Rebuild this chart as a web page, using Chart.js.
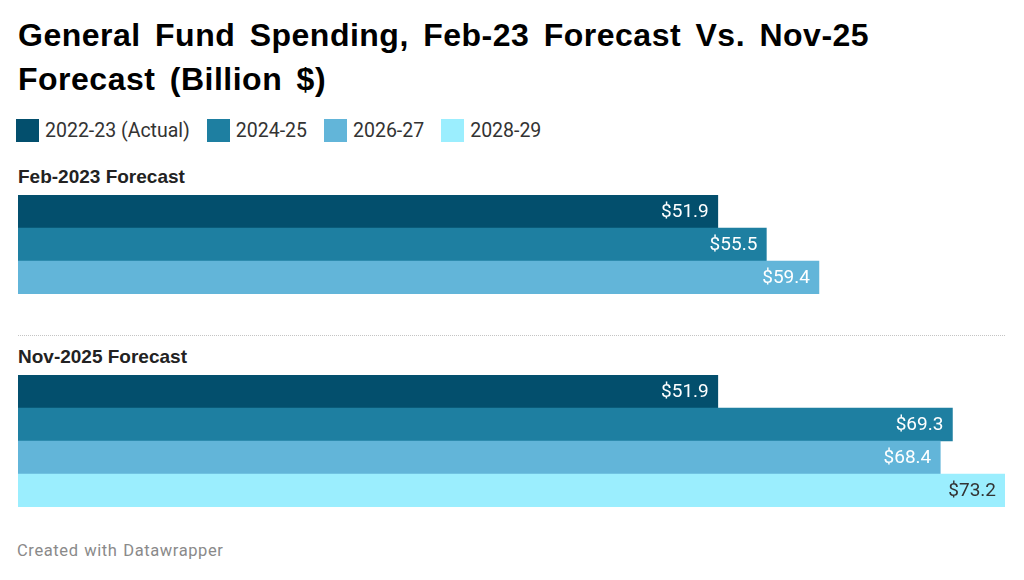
<!DOCTYPE html>
<html>
<head>
<meta charset="utf-8">
<script src="https://cdn.jsdelivr.net/npm/chart.js@4/dist/chart.umd.min.js"></script>
<style>
  html, body { margin: 0; padding: 0; background: #fff; }
  body { width: 1024px; height: 580px; position: relative; overflow: hidden; font-family: Roboto, "Noto Sans", sans-serif; }
  #title { position: absolute; left: 18px; top: 13px; width: 1000px; font-family: "Liberation Sans", Arial, sans-serif; font-size: 32px; line-height: 44px; font-weight: 700; letter-spacing: 0.5px; word-spacing: 5px; color: #000; margin: 0; }
  #legend { position: absolute; left: 16px; top: 119px; display: flex; gap: 17px; }
  .li { display: flex; align-items: flex-start; }
  .sw { width: 23px; height: 23px; margin-right: 6px; }
  .lt { font-size: 19.5px; line-height: 23px; color: #333; white-space: nowrap; }
  .grp { position: absolute; left: 18px; font-family: "Liberation Sans", Arial, sans-serif; font-size: 19px; line-height: 22px; font-weight: 700; color: #222; }
  .wrap { position: absolute; left: 18px; width: 987px; }
  #sep { position: absolute; left: 18px; top: 335px; width: 987px; border-top: 1px dotted #c4c4c4; }
  #foot { position: absolute; left: 17px; top: 541px; font-size: 16.5px; line-height: 19px; letter-spacing: 0.6px; word-spacing: 1px; color: #8a8a8a; }
</style>
</head>
<body>
<h1 id="title">General Fund Spending, Feb-23 Forecast Vs. Nov-25<br>Forecast (Billion $)</h1>
<div id="legend"></div>
<div class="grp" id="g0" style="top:166px"></div>
<div class="wrap" style="top:195px;height:99px"><canvas id="c0"></canvas></div>
<div id="sep"></div>
<div class="grp" id="g1" style="top:346px"></div>
<div class="wrap" style="top:375px;height:132px"><canvas id="c1"></canvas></div>
<div id="foot">Created with Datawrapper</div>
<script>
// ---- data ----
const categories = ['Feb-2023 Forecast', 'Nov-2025 Forecast'];
const seriesNames = ['2022-23 (Actual)', '2024-25', '2026-27', '2028-29'];
const feb2023Values = [51.9, 55.5, 59.4, null];
const nov2025Values = [51.9, 69.3, 68.4, 73.2];
const xMax = 73.2;

// ---- styles ----
const colors = ['#034f6d', '#1e7fa1', '#62b5d9', '#9beefe'];
const labelColors = ['#ffffff', '#ffffff', '#ffffff', '#333333'];

// legend
const legend = document.getElementById('legend');
seriesNames.forEach((n, i) => {
  const li = document.createElement('div'); li.className = 'li';
  const sw = document.createElement('div'); sw.className = 'sw'; sw.style.background = colors[i];
  const lt = document.createElement('div'); lt.className = 'lt'; lt.textContent = n;
  li.appendChild(sw); li.appendChild(lt); legend.appendChild(li);
});
document.getElementById('g0').textContent = categories[0];
document.getElementById('g1').textContent = categories[1];

const valueLabels = {
  id: 'valueLabels',
  afterDatasetsDraw(chart) {
    const ctx = chart.ctx;
    const meta = chart.getDatasetMeta(0);
    const ds = chart.data.datasets[0];
    ctx.save();
    ctx.font = '19px Roboto, "Noto Sans", sans-serif';
    ctx.textAlign = 'right';
    ctx.textBaseline = 'middle';
    meta.data.forEach((bar, i) => {
      ctx.fillStyle = ds.labelColors[i];
      ctx.fillText('$' + ds.data[i].toFixed(1), bar.x - 9, bar.y + 1);
    });
    ctx.restore();
  }
};

function makeChart(id, values) {
  const idx = values.map((v, i) => i).filter(i => values[i] !== null);
  new Chart(document.getElementById(id), {
    type: 'bar',
    data: {
      labels: idx.map(i => seriesNames[i]),
      datasets: [{
        data: idx.map(i => values[i]),
        backgroundColor: idx.map(i => colors[i]),
        labelColors: idx.map(i => labelColors[i]),
        categoryPercentage: 1,
        barPercentage: 1,
        borderWidth: 0
      }]
    },
    options: {
      indexAxis: 'y',
      responsive: true,
      maintainAspectRatio: false,
      animation: false,
      layout: { padding: 0 },
      plugins: { legend: { display: false }, tooltip: { enabled: false } },
      scales: {
        x: { display: false, min: 0, max: xMax },
        y: { display: false }
      }
    },
    plugins: [valueLabels]
  });
}
makeChart('c0', feb2023Values);
makeChart('c1', nov2025Values);
</script>
</body>
</html>
